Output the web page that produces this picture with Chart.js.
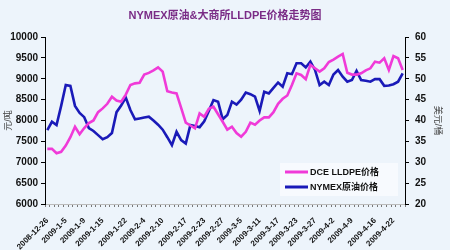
<!DOCTYPE html>
<html>
<head>
<meta charset="utf-8">
<script src="https://cdn.jsdelivr.net/npm/chart.js@4/dist/chart.umd.min.js"></script>
<style>
  html, body { margin: 0; padding: 0; background: #edf4fb; }
  #wrap { width: 450px; height: 250px; }
</style>
</head>
<body>
<div id="wrap"><canvas id="c"></canvas></div>
<script>
// trading days, 2008-12-26 .. 2009-4-24
const dates = [
  '2008-12-26', '2008-12-29', '2008-12-30', '2008-12-31',
  '2009-1-5', '2009-1-6', '2009-1-7', '2009-1-8', '2009-1-9',
  '2009-1-12', '2009-1-13', '2009-1-14', '2009-1-15', '2009-1-16',
  '2009-1-19', '2009-1-20', '2009-1-21', '2009-1-22', '2009-1-23',
  '2009-2-2', '2009-2-3', '2009-2-4', '2009-2-5', '2009-2-6',
  '2009-2-9', '2009-2-10', '2009-2-11', '2009-2-12', '2009-2-13',
  '2009-2-16', '2009-2-17', '2009-2-18', '2009-2-19', '2009-2-20',
  '2009-2-23', '2009-2-24', '2009-2-25', '2009-2-26', '2009-2-27',
  '2009-3-2', '2009-3-3', '2009-3-4', '2009-3-5', '2009-3-6',
  '2009-3-9', '2009-3-10', '2009-3-11', '2009-3-12', '2009-3-13',
  '2009-3-16', '2009-3-17', '2009-3-18', '2009-3-19', '2009-3-20',
  '2009-3-23', '2009-3-24', '2009-3-25', '2009-3-26', '2009-3-27',
  '2009-3-30', '2009-3-31', '2009-4-1', '2009-4-2', '2009-4-3',
  '2009-4-7', '2009-4-8', '2009-4-9', '2009-4-10',
  '2009-4-13', '2009-4-14', '2009-4-15', '2009-4-16', '2009-4-17',
  '2009-4-20', '2009-4-21', '2009-4-22', '2009-4-23', '2009-4-24'
];

const shownDates = [
  '2008-12-26', '2009-1-5', '2009-1-9', '2009-1-15', '2009-1-22',
  '2009-2-4', '2009-2-10', '2009-2-17', '2009-2-23', '2009-2-27',
  '2009-3-5', '2009-3-11', '2009-3-17', '2009-3-23', '2009-3-27',
  '2009-4-2', '2009-4-9', '2009-4-16', '2009-4-22'
];

// 大商所 LLDPE, 元/吨
const lldpe = [
  7320, 7320, 7215, 7250, 7400, 7600, 7850, 7670, 7820, 7940,
  8000, 8200, 8290, 8400, 8570, 8480, 8450, 8620, 8850, 8890,
  8905, 9100, 9140, 9200, 9274, 9170, 8700, 8670, 8650, 8300,
  7950, 7880, 7813, 8170, 8090, 8280, 8330, 8150, 7970, 7780,
  7850, 7700, 7612, 7730, 7950, 7900, 8000, 8076, 8076, 8200,
  8400, 8520, 8600, 8850, 9130, 9090, 8990, 9330, 9250, 9170,
  9250, 9400, 9460, 9530, 9593, 9145, 9100, 9100, 9130, 9200,
  9250, 9410, 9385, 9490, 9210, 9545, 9490, 9210
];

// NYMEX 原油, 美元/桶
const crude = [
  37.7, 39.7, 38.9, 43.5, 48.5, 48.3, 43.5, 41.8, 40.8, 38.2,
  37.5, 36.5, 35.5, 36.0, 37.0, 42.0, 43.6, 45.5, 42.5, 40.3,
  40.5, 40.7, 40.9, 40.0, 39.0, 37.8, 36.0, 34.1, 37.3, 35.3,
  34.5, 38.9, 38.7, 38.4, 39.8, 42.3, 44.9, 44.5, 40.3, 41.3,
  44.5, 43.8, 45.0, 46.7, 46.3, 45.7, 42.3, 46.9, 46.5, 47.8,
  49.1, 48.1, 51.3, 51.1, 53.7, 53.7, 52.7, 54.1, 52.1, 48.5,
  49.3, 48.5, 51.0, 52.1, 50.5, 49.3, 49.7, 51.9, 49.7, 49.5,
  49.3, 49.9, 49.9, 48.3, 48.4, 48.7, 49.3, 51.3
];

const PINK = '#f03ad8';
const BLUE = '#1a1ab8';
const FONT = '"Liberation Sans", Arial, "Noto Sans CJK SC", sans-serif';

// legend drawn inside the plot, lower right
const innerLegend = {
  id: 'innerLegend',
  afterDatasetsDraw(chart) {
    const {ctx, chartArea} = chart;
    const x0 = chartArea.right - 120;
    const rows = [chartArea.bottom - 32, chartArea.bottom - 17];
    ctx.save();
    ctx.fillStyle = 'rgba(250,252,255,0.75)';
    ctx.fillRect(x0 - 5, rows[0] - 9, 118, 33);
    chart.data.datasets.forEach((ds, i) => {
      const y = rows[i];
      ctx.strokeStyle = ds.borderColor;
      ctx.lineWidth = 3;
      ctx.beginPath();
      ctx.moveTo(x0, y);
      ctx.lineTo(x0 + 23, y);
      ctx.stroke();
      ctx.fillStyle = '#111';
      ctx.font = 'bold 9px ' + FONT;
      ctx.textBaseline = 'middle';
      ctx.fillText(ds.label, x0 + 25, y + 1);
    });
    ctx.restore();
  }
};

new Chart(document.getElementById('c'), {
  type: 'line',
  data: {
    labels: dates,
    datasets: [
      {
        label: 'DCE LLDPE价格',
        data: lldpe,
        yAxisID: 'y',
        borderColor: PINK,
        borderWidth: 2.6,
        pointRadius: 0,
        tension: 0,
      },
      {
        label: 'NYMEX原油价格',
        data: crude,
        yAxisID: 'y1',
        borderColor: BLUE,
        borderWidth: 2.6,
        pointRadius: 0,
        tension: 0,
      },
    ]
  },
  options: {
    responsive: true,
    maintainAspectRatio: false,
    animation: false,
    layout: {padding: {left: 0, right: 0, top: 0, bottom: 0}},
    plugins: {
      legend: {display: false},
      tooltip: {enabled: false},
      title: {
        display: true,
        text: 'NYMEX原油&大商所LLDPE价格走势图',
        color: '#7a2c86',
        font: {family: FONT, size: 11, weight: 'bold'},
        padding: {top: 9, bottom: 14.8},
      },
    },
    scales: {
      x: {
        offset: true,
        grid: {offset: true, drawOnChartArea: false, tickLength: 3, color: '#777'},
        border: {color: '#bbb'},
        afterFit(s) { s.height = 46; },
        ticks: {
          autoSkip: false,
          minRotation: 45,
          maxRotation: 45,
          padding: 9,
          color: '#111',
          font: {family: FONT, size: 8, weight: 'bold'},
          callback(v) {
            const d = this.getLabelForValue(v);
            return shownDates.includes(d) ? d : '';
          },
        },
      },
      y: {
        position: 'left',
        min: 6000,
        max: 10000,
        afterFit(s) { s.width = 45; },
        grid: {drawOnChartArea: false, tickLength: 4, color: '#000'},
        border: {color: '#000'},
        ticks: {
          stepSize: 500,
          padding: 3,
          color: '#111',
          font: {family: FONT, size: 10, weight: 'bold'},
          callback: v => String(v),
        },
        title: {
          display: true,
          text: '元/吨',
          color: '#444',
          padding: {top: 3, bottom: 0},
          font: {family: FONT, size: 9},
        },
      },
      y1: {
        position: 'right',
        min: 20,
        max: 60,
        afterFit(s) { s.width = 45; },
        grid: {drawOnChartArea: false, tickLength: 4, color: '#000'},
        border: {color: '#000'},
        ticks: {
          stepSize: 5,
          padding: 6,
          color: '#111',
          font: {family: FONT, size: 10, weight: 'bold'},
        },
        title: {
          display: true,
          text: '美元/桶',
          color: '#444',
          padding: {top: 7, bottom: 0},
          font: {family: FONT, size: 9},
        },
      },
    },
  },
  plugins: [innerLegend],
});
</script>
</body>
</html>
